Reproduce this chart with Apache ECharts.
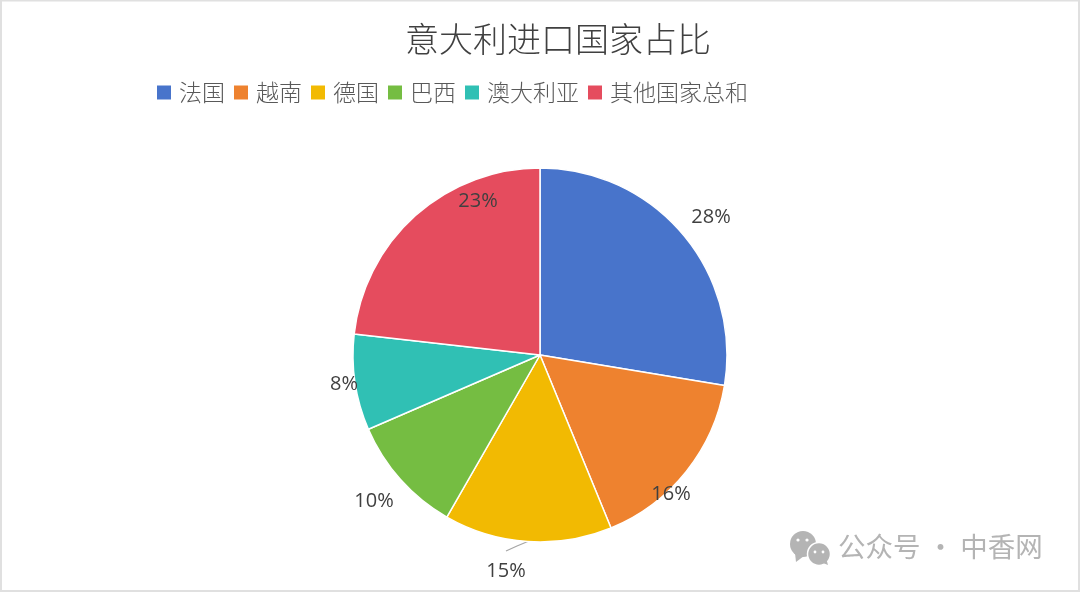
<!DOCTYPE html>
<html><head><meta charset="utf-8">
<style>html,body{margin:0;padding:0;background:#fff}#c{width:1080px;height:592px}</style>
<script src="https://cdn.jsdelivr.net/npm/echarts@6/dist/echarts.min.js"></script>
</head><body><div id="c"></div>
<script>
const categories = ['法国','越南','德国','巴西','澳大利亚','其他国家总和'];
const shares = [27.6,16.2,14.5,10.2,8.3,23.2];
const colors = ['#4874CB','#EE822F','#F2BA02','#75BD42','#30C0B4','#E54C5E'];
const labelSpots = [[711,217],[671,494],[506,571],[374,501],[344,384],[478,201]];
const chart = echarts.init(document.getElementById('c'), null, {renderer:'canvas'});
const cjk = '"Noto Sans CJK SC"';
chart.setOption({
  animation:false,
  backgroundColor:'#fff',
  title:{text:'意大利进口国家占比',left:553,top:17,textAlign:'center',
    textStyle:{fontFamily:cjk,fontSize:34,fontWeight:300,color:'#404040'}},
  legend:{left:152,top:76,itemWidth:14,itemHeight:14,itemGap:9,icon:'rect',
    textStyle:{fontFamily:cjk,fontSize:23,fontWeight:300,color:'#595959',padding:[0,0,0,3]},
    itemStyle:{borderWidth:0}},
  graphic:[
    {type:'rect',silent:true,z:-1,shape:{x:1,y:0.5,width:1078,height:590.5},style:{fill:'none',stroke:'#e0e0e0',lineWidth:2}},
    {type:'circle',shape:{cx:803,cy:544,r:13},style:{fill:'#b4b4b4'}},
    {type:'polygon',shape:{points:[[795,553],[796,562],[804,556]]},style:{fill:'#b4b4b4'}},
    {type:'circle',shape:{cx:819,cy:554,r:11.5},style:{fill:'#b4b4b4',stroke:'#fff',lineWidth:1.5}},
    {type:'polygon',shape:{points:[[823,563],[828,565],[826,558]]},style:{fill:'#b4b4b4'}},
    {type:'circle',shape:{cx:798,cy:540,r:1.6},style:{fill:'#fff'}},
    {type:'circle',shape:{cx:807,cy:540,r:1.6},style:{fill:'#fff'}},
    {type:'circle',shape:{cx:815,cy:552,r:1.4},style:{fill:'#fff'}},
    {type:'circle',shape:{cx:823,cy:552,r:1.4},style:{fill:'#fff'}},
    {type:'text',left:838,top:533,style:{text:'公众号 · 中香网',font:'400 27.5px "Noto Sans CJK SC"',fill:'#b4b4b4'}}
  ],
  series:[{
    type:'pie',center:[540,355],radius:[0,187],startAngle:90,clockwise:true,
    data:categories.map((n,i)=>({name:n,value:shares[i],
      itemStyle:{color:colors[i]},
      labelLine:{show:i===2,length:8,length2:8,smooth:false,lineStyle:{color:'#a6a6a6',width:1.2}}})),
    itemStyle:{borderColor:'#fff',borderWidth:1.5},
    label:{show:true,position:'outside',formatter:p=>Math.round(p.value)+'%',
      fontFamily:'"Open Sans"',fontSize:20,color:'#404040'},
    labelLayout:p=>({x:labelSpots[p.dataIndex][0],y:labelSpots[p.dataIndex][1],align:'center',verticalAlign:'middle',
      labelLinePoints:p.dataIndex===2?[[529,541],[517,546],[506,551]]:undefined}),
    emphasis:{disabled:true}
  }]
});
</script></body></html>
